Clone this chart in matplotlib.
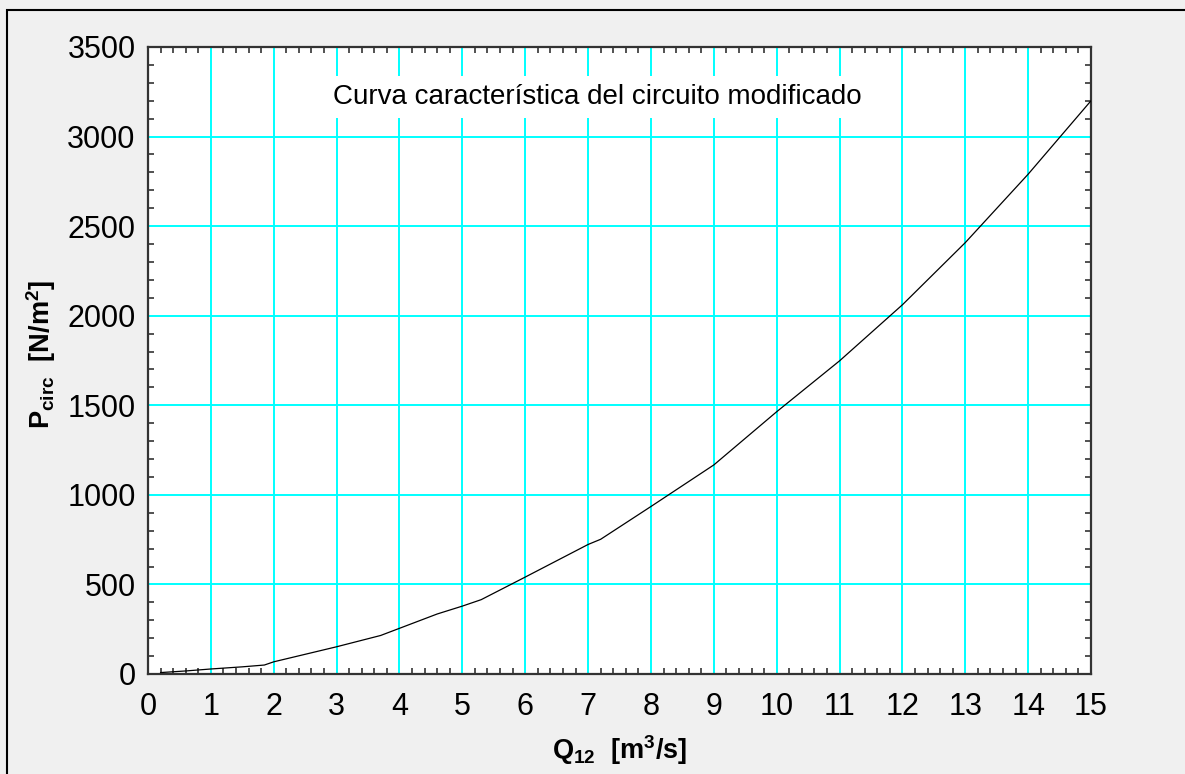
import numpy as np
import matplotlib.pyplot as plt
from matplotlib.patches import Rectangle
from matplotlib.ticker import MultipleLocator

plt.rcParams['font.family'] = ['Liberation Sans', 'DejaVu Sans']
plt.rcParams['mathtext.fontset'] = 'custom'
plt.rcParams['mathtext.rm'] = 'Liberation Sans'
plt.rcParams['mathtext.bf'] = 'Liberation Sans:bold'

# Curva del circuito: caudal Q12 [m3/s] vs presion P_circ [N/m2]
q12 = [0.2, 0.6, 1.0, 1.5, 1.85, 2.0, 2.5, 3.0, 3.7, 4.0, 4.6, 5.0, 5.3,
       6.0, 7.0, 7.2, 8.0, 9.0, 10.0, 11.0, 12.0, 13.0, 14.0, 15.0]
p_circ = [8, 17, 28, 40, 50, 68, 110, 152, 215, 255, 335, 379, 415,
          541, 723, 752, 935, 1167, 1464, 1748, 2061, 2408, 2790, 3200]

titulo = "Curva característica del circuito modificado"
xticks = np.arange(0, 16, 1)
yticks = np.arange(0, 3501, 500)

fig = plt.figure(figsize=(11.85, 7.74), dpi=100, facecolor='#f0f0f0')
ax = fig.add_axes([0.1249, 0.1292, 0.7958, 0.8101])

ax.plot(q12, p_circ, color='black', lw=0.9, zorder=3)

ax.set_xlim(0, 15)
ax.set_ylim(0, 3500)
ax.set_xticks(xticks)
ax.set_yticks(yticks)
ax.xaxis.set_minor_locator(MultipleLocator(0.2))
ax.yaxis.set_minor_locator(MultipleLocator(100))
ax.grid(True, which='major', color='#00ffff', lw=1.4, zorder=1)
ax.tick_params(which='major', length=0, labelsize=22)
ax.tick_params(axis='x', which='major', pad=13)
ax.tick_params(axis='y', which='major', pad=9)
ax.tick_params(which='minor', direction='in', length=4.5, width=1.1,
               top=True, right=True, color='#222222')
for s in ax.spines.values():
    s.set_linewidth(1.6)
    s.set_color('#333333')
ax.set_axisbelow(True)

ax.text(7.15, 3220, titulo, ha='center', va='center', fontsize=20,
        bbox=dict(facecolor='white', edgecolor='none', pad=6), zorder=2)

ax.set_xlabel(r'$\mathbf{Q_{12}}$  [m$^\mathbf{3}$/s]', fontsize=19.5,
              fontweight='bold', labelpad=8)
ax.set_ylabel(r'$\mathbf{P_{circ}}$  [N/m$^\mathbf{2}$]', fontsize=19.5,
              fontweight='bold')
ax.yaxis.set_label_coords(-0.095, 0.51)

# marco exterior de la ventana
fig.patches.append(Rectangle((7 / 1185, -0.1), 1.2, 1.1 - 10 / 774,
                             transform=fig.transFigure, fill=False,
                             edgecolor='black', lw=1.5))

fig.savefig('out.png', dpi=100, facecolor=fig.get_facecolor())
